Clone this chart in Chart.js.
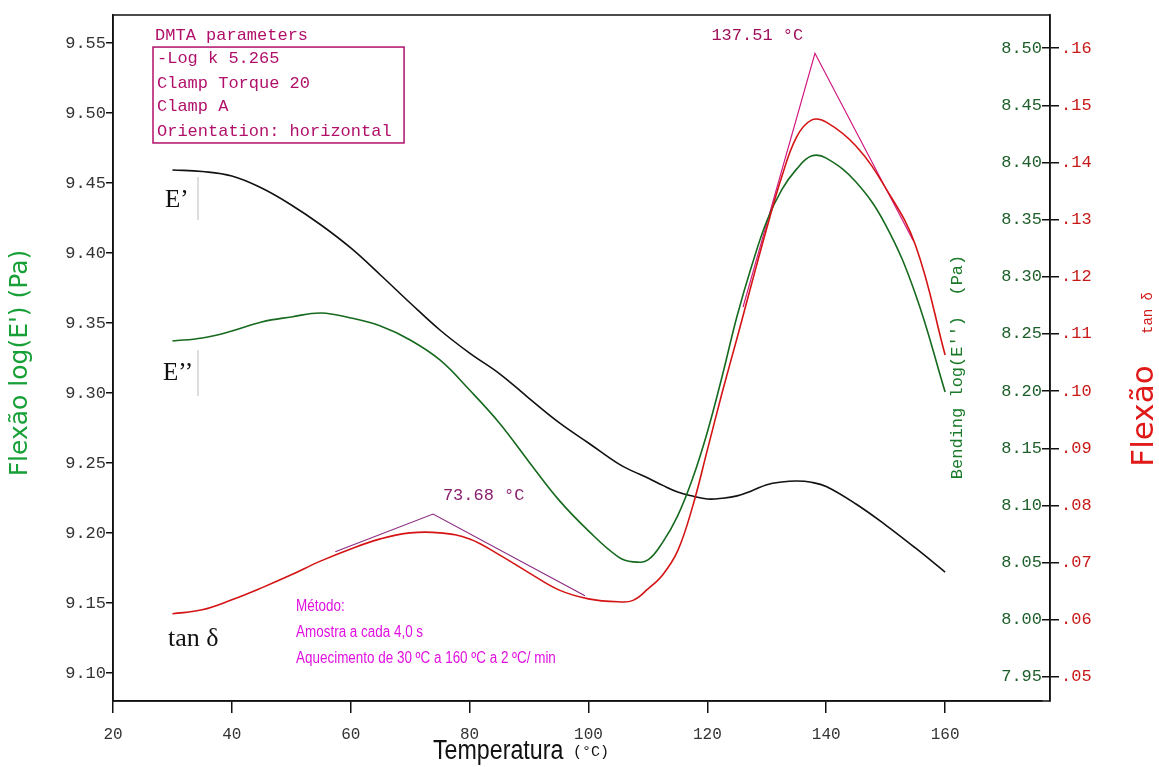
<!DOCTYPE html>
<html>
<head>
<meta charset="utf-8">
<script src="https://cdn.jsdelivr.net/npm/chart.js@4"></script>
<style>
  html, body { margin: 0; padding: 0; background: #fff; }
  #wrap { width: 1159px; height: 767px; position: relative; }
</style>
</head>
<body>
<div id="wrap"><canvas id="dmta"></canvas></div>
<script>
// temperatura (°C)
const temps = [30, 35, 40, 45, 50, 55, 60, 65, 70, 75, 80, 85, 90, 95, 100, 105, 107.5, 110, 112.5, 115, 117.5, 120, 122.5, 125, 127.5, 130, 132.5, 135, 137.5, 140, 145, 150, 155, 160];

// log(E') - eixo esquerdo
const eStorage = [9.4593, 9.4582, 9.4550, 9.4464, 9.4343, 9.4200, 9.4036, 9.3843, 9.3643, 9.3450, 9.3285, 9.3139, 9.2962, 9.2790, 9.2643, 9.2495, 9.2440, 9.2393, 9.2340, 9.2293, 9.2264, 9.2243, 9.2248, 9.2265, 9.2302, 9.2345, 9.2364, 9.2371, 9.2362, 9.2332, 9.2207, 9.2057, 9.1893, 9.1721];

// log(E'') - eixo verde da direita
const eLoss = [8.2439, 8.2465, 8.2526, 8.2605, 8.2649, 8.2684, 8.2640, 8.2570, 8.2448, 8.2273, 8.2010, 8.1722, 8.1381, 8.1049, 8.0778, 8.0551, 8.0507, 8.0524, 8.0680, 8.0909, 8.1233, 8.1643, 8.2133, 8.2657, 8.3103, 8.3488, 8.3760, 8.3942, 8.4056, 8.4038, 8.3829, 8.3453, 8.2850, 8.1993];

// tan delta - eixo vermelho
const tanDelta = [0.06105, 0.06175, 0.06350, 0.06559, 0.06787, 0.07031, 0.07241, 0.07416, 0.07521, 0.07521, 0.07416, 0.07136, 0.06822, 0.06524, 0.06367, 0.06315, 0.06340, 0.06540, 0.06790, 0.07206, 0.07976, 0.08972, 0.09980, 0.10930, 0.11900, 0.12853, 0.13745, 0.14444, 0.14741, 0.14706, 0.14287, 0.13552, 0.12556, 0.10633];

// tangentes dos picos de tan delta
const tangLowT = [57.4, 73.85, 99.4];
const tangLowV = [0.0719, 0.0785, 0.0642];
const tangHighT = [126.0, 138.1, 154.6];
const tangHighV = [0.1147, 0.1591, 0.1264];

// ticks
const xTicks = [20, 40, 60, 80, 100, 120, 140, 160];
const leftTicks = [9.10, 9.15, 9.20, 9.25, 9.30, 9.35, 9.40, 9.45, 9.50, 9.55];
const greenTicks = [7.95, 8.00, 8.05, 8.10, 8.15, 8.20, 8.25, 8.30, 8.35, 8.40, 8.45, 8.50];
const redTicks = [0.05, 0.06, 0.07, 0.08, 0.09, 0.10, 0.11, 0.12, 0.13, 0.14, 0.15, 0.16];

const mono = "'Liberation Mono', 'DejaVu Sans Mono', monospace";
const sans = "'Liberation Sans', Arial, sans-serif";
const pts = (xs, ys) => xs.map((t, i) => ({ x: t, y: ys[i] }));
const setTicks = list => s => { s.ticks = list.map(v => ({ value: v })); };

const overlay = {
  id: 'overlay',
  afterDraw(chart) {
    const { ctx, chartArea: a, scales } = chart;
    const px = v => scales.x.getPixelForValue(v);
    const py = v => scales.y.getPixelForValue(v);
    // sx < 1 imita uma fonte condensada
    const text = (str, x, y, font, color, align = 'left', rot = 0, sx = 1) => {
      ctx.save();
      ctx.translate(x, y);
      if (rot) ctx.rotate(rot);
      if (sx !== 1) ctx.scale(sx, 1);
      ctx.font = font;
      ctx.fillStyle = color;
      ctx.textAlign = align;
      ctx.textBaseline = 'middle';
      ctx.fillText(str, 0, 0);
      ctx.restore();
    };
    ctx.save();

    // moldura
    ctx.strokeStyle = '#111';
    ctx.lineWidth = 1.5;
    ctx.strokeRect(a.left, a.top, scales.yT.left - a.left, a.bottom - a.top);

    // parametros DMTA
    const pink = '#b0106a';
    text('DMTA parameters', px(27.07), py(9.5557), '17px ' + mono, pink);
    ctx.strokeStyle = pink;
    ctx.lineWidth = 1.5;
    ctx.strokeRect(px(26.73), py(9.5471), px(68.97) - px(26.73), py(9.4786) - py(9.5471));
    text('-Log k 5.265', px(27.4), py(9.5386), '17px ' + mono, pink);
    text('Clamp Torque 20', px(27.4), py(9.5214), '17px ' + mono, pink);
    text('Clamp A', px(27.4), py(9.5050), '17px ' + mono, pink);
    text('Orientation: horizontal', px(27.4), py(9.4871), '17px ' + mono, pink);

    text('137.51 °C', px(128.4), py(9.5557), '17px ' + mono, '#a0105a', 'center');
    text('73.68 °C', px(75.5), py(9.2271), '17px ' + mono, '#8a2070');

    // nomes das curvas
    const serif = "'Liberation Serif', 'DejaVu Serif', serif";
    text('E\u2019', px(28.75), py(9.4379), '25px ' + serif, '#111');
    text('E\u2019\u2019', px(28.4), py(9.3143), '25px ' + serif, '#111');
    text('tan \u03b4', px(29.25), py(9.1243), '26px ' + serif, '#111');
    ctx.strokeStyle = '#bbb';
    ctx.lineWidth = 1;
    ctx.beginPath();
    ctx.moveTo(px(34.3), py(9.4543)); ctx.lineTo(px(34.3), py(9.4236));
    ctx.moveTo(px(34.3), py(9.3307)); ctx.lineTo(px(34.3), py(9.2979));
    ctx.stroke();

    // metodo
    const mag = '#e010e0';
    text('Método:', px(50.8), py(9.1471), '16px ' + sans, mag, 'left', 0, 0.84);
    text('Amostra a cada 4,0 s', px(50.8), py(9.1286), '16px ' + sans, mag, 'left', 0, 0.84);
    text('Aquecimento de 30 ºC a 160 ºC a 2 ºC/ min', px(50.8), py(9.1100), '16px ' + sans, mag, 'left', 0, 0.84);

    // titulo verde interno
    text("Bending log(E'')  (Pa)", px(162.0), py(9.3186), '17px ' + mono, '#1a7a2a', 'center', -Math.PI / 2);

    // titulos dos eixos
    text("Flexão log(E') (Pa)", 20, 363, "25px 'DejaVu Sans', sans-serif", '#18a038', 'center', -Math.PI / 2);
    text('Flexão', 1145, 416, "31px 'DejaVu Sans', sans-serif", '#e01818', 'center', -Math.PI / 2);
    text('tan \u03b4', 1148, 313, '14px ' + mono, '#d01818', 'center', -Math.PI / 2);

    // titulo do eixo x
    text('Temperatura', 433, 752, '27px ' + sans, '#111', 'left', 0, 0.86);
    text('(°C)', 573, 752, '15px ' + mono, '#111');

    ctx.restore();
  }
};

new Chart(document.getElementById('dmta'), {
  type: 'line',
  data: {
    datasets: [
      { label: 'tan δ', data: pts(temps, tanDelta), yAxisID: 'yT', borderColor: '#d41414', borderWidth: 1.6, tension: 0.4 },
      { label: "E''", data: pts(temps, eLoss), yAxisID: 'yG', borderColor: '#166a1e', borderWidth: 1.6, tension: 0.4 },
      { label: "E'", data: pts(temps, eStorage), yAxisID: 'y', borderColor: '#111', borderWidth: 1.6, tension: 0.4 },
      { label: 'tangente 1', data: pts(tangLowT, tangLowV), yAxisID: 'yT', borderColor: '#8a2a80', borderWidth: 1.2, tension: 0 },
      { label: 'tangente 2', data: pts(tangHighT, tangHighV), yAxisID: 'yT', borderColor: '#d01880', borderWidth: 1.2, tension: 0 }
    ]
  },
  options: {
    responsive: true,
    maintainAspectRatio: false,
    animation: false,
    elements: { point: { radius: 0 } },
    layout: { padding: { top: 15, left: 0, right: 0, bottom: 0 } },
    plugins: { legend: { display: false }, tooltip: { enabled: false } },
    scales: {
      x: {
        type: 'linear',
        min: 20,
        max: 176.3,
        afterBuildTicks: setTicks(xTicks),
        afterFit: s => { s.height = 66; },
        grid: { drawOnChartArea: false, tickLength: 12, color: '#111', lineWidth: 1.5 },
        border: { color: '#111', width: 1.5 },
        ticks: { color: '#333', padding: 12, font: { family: mono, size: 16 } }
      },
      y: {
        position: 'left',
        min: 9.08,
        max: 9.57,
        afterBuildTicks: setTicks(leftTicks),
        afterFit: s => { s.width = 113; },
        grid: { drawOnChartArea: false, tickLength: 7, color: '#111', lineWidth: 1.5 },
        border: { color: '#111', width: 1.5 },
        ticks: { color: '#333', padding: 0, font: { family: mono, size: 17 }, callback: v => v.toFixed(2) }
      },
      yG: {
        position: 'right',
        weight: 0,
        min: 7.929,
        max: 8.529,
        afterBuildTicks: setTicks(greenTicks),
        afterFit: s => { s.width = 8; },
        grid: { drawOnChartArea: false, tickLength: 8, color: '#111', lineWidth: 1.5 },
        border: { display: false },
        ticks: { mirror: true, color: '#1e5e2a', padding: 0, font: { family: mono, size: 17 }, callback: v => v.toFixed(2) }
      },
      yT: {
        position: 'right',
        weight: 1,
        min: 0.0458,
        max: 0.1658,
        afterBuildTicks: setTicks(redTicks),
        afterFit: s => { s.width = 109; },
        grid: { drawOnChartArea: false, tickLength: 9, color: '#111', lineWidth: 1.5 },
        border: { color: '#111', width: 1.5 },
        ticks: { color: '#c81818', padding: 2, font: { family: mono, size: 17 }, callback: v => v.toFixed(2).replace(/^0/, '') }
      }
    }
  },
  plugins: [overlay]
});
</script>
</body>
</html>
